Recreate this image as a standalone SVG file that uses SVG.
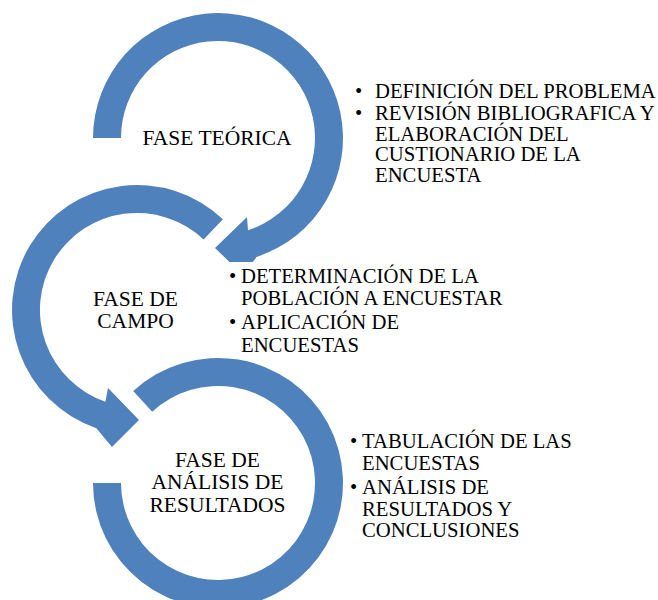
<svg xmlns="http://www.w3.org/2000/svg" width="658" height="600" viewBox="0 0 658 600">
  <style>
    .arrow { fill: #4F81BD; stroke: none; }
    .title { font-family: "Liberation Serif", "Times New Roman", serif; font-size: 21.5px; fill: #000; text-anchor: middle; }
    .item { font-family: "Liberation Serif", "Times New Roman", serif; font-size: 20.7px; fill: #000; }
  </style>
  <rect width="658" height="600" fill="#ffffff"/>

  <g id="fase-teorica">
    <path class="arrow" d="M 93,138 A 125 125 0 1 1 256.6,256.9 L 252.8,262 L 229.5,262 L 215,248 L 247,217 L 248,230.2 A 97 97 0 1 0 121,138 Z"/>
    <text class="title" x="217" y="145">FASE TEÓRICA</text>
    <g class="item">
      <text x="355" y="98">•</text>
      <text x="375" y="98">DEFINICIÓN DEL PROBLEMA</text>
      <text x="355" y="120">•</text>
      <text x="375" y="120">REVISIÓN BIBLIOGRAFICA Y</text>
      <text x="375" y="140.5">ELABORACIÓN DEL</text>
      <text x="375" y="161">CUSTIONARIO DE LA</text>
      <text x="375" y="181.5">ENCUESTA</text>
    </g>
  </g>

  <g id="fase-campo">
    <path class="arrow" d="M 222.9,219.2 A 125 125 0 1 0 96.3,428.2 L 112,447 L 139,420 L 108,388 L 105.4,401.7 A 97 97 0 1 1 203.6,239.5 Z"/>
    <text class="title" x="135.5" y="305.5">FASE DE</text>
    <text class="title" x="135.5" y="328">CAMPO</text>
    <g class="item">
      <text x="229" y="283">•</text>
      <text x="241" y="283">DETERMINACIÓN DE LA</text>
      <text x="241" y="305">POBLACIÓN A ENCUESTAR</text>
      <text x="229" y="329">•</text>
      <text x="241" y="329">APLICACIÓN DE</text>
      <text x="241" y="351.5">ENCUESTAS</text>
    </g>
  </g>

  <g id="fase-analisis">
    <path class="arrow" d="M 133.2,391.1 A 125 125 0 1 1 93,483 L 121,483 A 97 97 0 1 0 152.2,411.7 Z"/>
    <text class="title" x="217.5" y="466.5">FASE DE</text>
    <text class="title" x="217.5" y="489">ANÁLISIS DE</text>
    <text class="title" x="217.5" y="511.5">RESULTADOS</text>
    <g class="item">
      <text x="350" y="448">•</text>
      <text x="362" y="448">TABULACIÓN DE LAS</text>
      <text x="362" y="470">ENCUESTAS</text>
      <text x="350" y="494">•</text>
      <text x="362" y="494">ANÁLISIS DE</text>
      <text x="362" y="515.5">RESULTADOS Y</text>
      <text x="362" y="537">CONCLUSIONES</text>
    </g>
  </g>

  <g id="connectors"></g>
</svg>
